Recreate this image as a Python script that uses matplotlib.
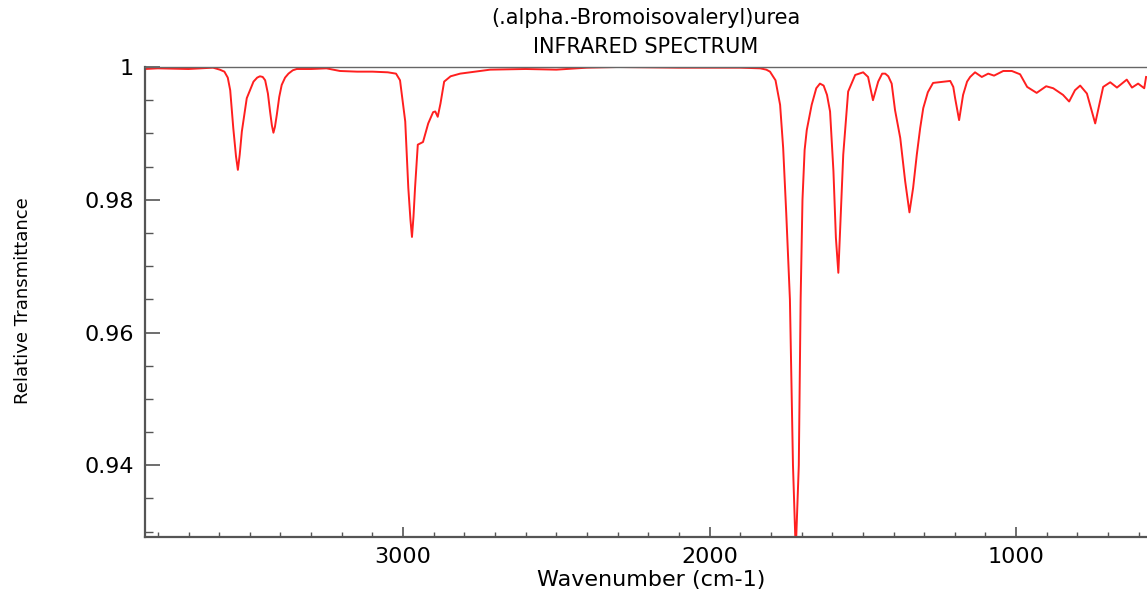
import matplotlib
matplotlib.use("Agg")
import matplotlib.pyplot as plt
from matplotlib.ticker import MultipleLocator, FuncFormatter

title_line1 = "(.alpha.-Bromoisovaleryl)urea"
title_line2 = "INFRARED SPECTRUM"
x_label = "Wavenumber (cm-1)"
y_label = "Relative Transmittance"

wavenumber = [
    3842, 3800, 3700, 3620, 3598, 3583, 3572, 3564, 3554, 3545, 3539, 3533, 3526, 3510, 3488,
    3476, 3467, 3458, 3450, 3441, 3434, 3428, 3423, 3418, 3412, 3404, 3396, 3385, 3374, 3360, 3347,
    3300, 3250, 3206, 3150, 3100, 3050, 3023, 3010, 2993, 2983, 2976, 2971, 2966, 2961, 2952, 2935,
    2918, 2902, 2895, 2887, 2878, 2866, 2845, 2814, 2716, 2600, 2500, 2400, 2300, 2100, 2000, 1900,
    1835, 1815, 1803, 1785, 1770, 1760, 1750, 1738, 1728, 1719, 1709, 1703, 1697, 1690, 1683, 1667,
    1652, 1640, 1628, 1617, 1607, 1596, 1588, 1580, 1573, 1564, 1548, 1525, 1499, 1483, 1467, 1450,
    1437, 1427, 1417, 1406, 1395, 1378, 1362, 1348, 1336, 1324, 1313, 1303, 1288, 1271, 1215, 1205,
    1199, 1186, 1173, 1160, 1150, 1134, 1112, 1091, 1072, 1042, 1014, 987, 964, 933,
    902, 879, 847, 827, 808, 791, 769, 742, 716, 693, 671, 639,
    622, 602, 582, 576,
]
transmittance = [
    0.9997, 0.9998, 0.9997, 0.9999, 0.9996, 0.9993, 0.9984, 0.9965, 0.9908, 0.9865, 0.9845, 0.9868, 0.9903, 0.9953, 0.9978,
    0.9984, 0.9986, 0.9985, 0.9980, 0.9960, 0.9933, 0.9912, 0.9901, 0.9910, 0.9928, 0.9955, 0.9973, 0.9984, 0.9990, 0.9995, 0.9997,
    0.9997, 0.9998, 0.9994, 0.9993, 0.9993, 0.9992, 0.9990, 0.9980, 0.9918, 0.9818, 0.9770, 0.9744, 0.9775, 0.9818, 0.9883, 0.9887,
    0.9915, 0.9932, 0.9933, 0.9925, 0.9945, 0.9978, 0.9986, 0.9990, 0.9996, 0.9997, 0.9996, 0.9999, 1.0000, 0.9999, 0.9999, 0.9999,
    0.9998, 0.9996, 0.9993, 0.9980, 0.9943, 0.9878, 0.9780, 0.9650, 0.9400, 0.9270, 0.9400, 0.9650, 0.9800, 0.9875, 0.9905, 0.9943,
    0.9968, 0.9975, 0.9972, 0.9958, 0.9933, 0.9843, 0.9743, 0.9690, 0.9767, 0.9868, 0.9963, 0.9988, 0.9992, 0.9985, 0.9950, 0.9978,
    0.9990, 0.9990, 0.9986, 0.9975, 0.9935, 0.9893, 0.9828, 0.9781, 0.9818, 0.9868, 0.9908, 0.9938, 0.9962, 0.9976, 0.9979, 0.9970,
    0.9953, 0.9920, 0.9958, 0.9978, 0.9985, 0.9992, 0.9985, 0.9990, 0.9987, 0.9994, 0.9994, 0.9989, 0.9970, 0.9961,
    0.9971, 0.9968, 0.9958, 0.9948, 0.9965, 0.9972, 0.9960, 0.9915, 0.9970, 0.9977, 0.9969, 0.9981,
    0.9969, 0.9975, 0.9968, 0.9985,
]

fig = plt.figure(figsize=(11.47, 5.97), dpi=100)
ax = fig.add_axes([145 / 1147, 60 / 597, 1002 / 1147, 470 / 597])

ax.plot(wavenumber, transmittance, color="#ff1f1f", lw=1.4,
        solid_joinstyle="round")
ax.set_xlim(3842, 573)
ax.set_ylim(0.9292, 1.0)

ax.xaxis.set_major_locator(MultipleLocator(1000))
ax.xaxis.set_minor_locator(MultipleLocator(100))
ax.yaxis.set_major_locator(MultipleLocator(0.02))
ax.yaxis.set_minor_locator(MultipleLocator(0.005))
ax.yaxis.set_major_formatter(FuncFormatter(lambda v, p: f"{v:g}"))
ax.xaxis.set_major_formatter(FuncFormatter(lambda v, p: f"{v:g}"))

tick_col = "#555555"
ax.tick_params(axis="x", which="major", direction="in", length=7, width=1.2,
               color=tick_col, labelsize=16, pad=7)
ax.tick_params(axis="x", which="minor", direction="in", length=3.5, width=1.0,
               color=tick_col)
ax.tick_params(axis="y", which="major", direction="in", length=10.5, width=1.2,
               color=tick_col, labelsize=16, pad=8)
ax.tick_params(axis="y", which="minor", direction="in", length=5.5, width=1.0,
               color=tick_col)

for side in ("left", "bottom"):
    ax.spines[side].set_color("#555555")
    ax.spines[side].set_linewidth(1.6)
ax.spines["top"].set_color("#666666")
ax.spines["top"].set_linewidth(1.0)
ax.spines["right"].set_visible(False)

fig.text(23 / 1147, 1 - 301 / 597, y_label, rotation=90, ha="center",
         va="center", fontsize=13)
fig.text((505 + 797) / 2 / 1147, 1 - 580 / 597, x_label, ha="center",
         va="center", fontsize=16)
fig.text(646 / 1147, 1 - 18 / 597, title_line1, ha="center", va="center",
         fontsize=15)
fig.text(646 / 1147, 1 - 47 / 597, title_line2, ha="center", va="center",
         fontsize=15)

fig.savefig("out.png", dpi=100)
